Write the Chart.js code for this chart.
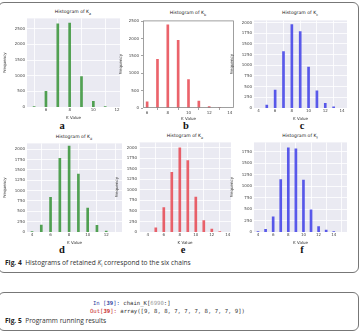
<!DOCTYPE html>
<html><head><meta charset="utf-8">
<script src="https://cdn.jsdelivr.net/npm/chart.js@4"></script>
<style>
body{margin:0;width:362px;height:333px;background:#fff;position:relative;overflow:hidden;font-family:"Open Sans",sans-serif;}
.box{position:absolute;border:1px solid #777;border-radius:6px;}
canvas{position:absolute;}
.ttl{position:absolute;font-family:"DejaVu Sans",sans-serif;font-size:4.6px;color:#222;text-align:center;white-space:nowrap;transform:translateX(-50%);}
.ttl sub{font-size:3.4px;}
.lab{position:absolute;font-family:"Liberation Serif",serif;font-weight:bold;font-size:10.5px;color:#111;transform:translateX(-50%);}
.cap{position:absolute;left:5px;font-size:6.6px;color:#333;white-space:nowrap;}
.cap b{font-family:"Open Sans",sans-serif;font-weight:700;color:#222;}
.code{position:absolute;font-family:"DejaVu Sans Mono",monospace;font-size:5.6px;color:#333;white-space:pre;}
</style></head><body>
<div class="box" style="left:-2px;top:2px;width:359px;height:269px;"></div>
<div class="box" style="left:-2px;top:292px;width:359px;height:37px;"></div>

<div class="ttl" style="left:73px;top:9px;">Histogram of K<sub>a</sub></div>
<div class="ttl" style="left:188px;top:10px;">Histogram of K<sub>b</sub></div>
<div class="ttl" style="left:300px;top:10px;">Histogram of K<sub>c</sub></div>
<div class="ttl" style="left:74px;top:134px;">Histogram of K<sub>d</sub></div>
<div class="ttl" style="left:185px;top:133px;">Histogram of K<sub>e</sub></div>
<div class="ttl" style="left:300px;top:133px;">Histogram of K<sub>f</sub></div>

<div class="lab" style="left:62px;top:120px;">a</div>
<div class="lab" style="left:186px;top:120px;">b</div>
<div class="lab" style="left:302px;top:120px;">c</div>
<div class="lab" style="left:62px;top:244px;">d</div>
<div class="lab" style="left:183px;top:244px;">e</div>
<div class="lab" style="left:302px;top:244px;">f</div>

<div class="cap" style="top:258px;"><b>Fig. 4</b>&nbsp; Histograms of retained <i>K</i><sub style="font-size:4.5px">i</sub> correspond to the six chains</div>
<div class="code" style="left:93px;top:300px;"><span style="color:#303f9f">In [<b>39</b>]:</span> chain_K[<span style="color:#9a9a9a">6990</span>:]</div>
<div class="code" style="left:90px;top:308px;"><span style="color:#c62828">Out[<b>39</b>]:</span> array([9, 8, 8, 7, 7, 7, 8, 7, 7, 9])</div>
<div class="cap" style="top:316px;"><b>Fig. 5</b>&nbsp; Programm running results</div>

<canvas id="ca"></canvas><canvas id="cb"></canvas><canvas id="cc"></canvas>
<canvas id="cd"></canvas><canvas id="ce"></canvas><canvas id="cf"></canvas>
<script>
// ---- data ----
const kA = [5, 6, 7, 8, 9, 10, 11];
const freqA = [10, 500, 2660, 2680, 970, 180, 15];
const kB = [6, 7, 8, 9, 10, 11, 12, 13];
const freqB = [180, 1400, 2390, 1950, 820, 200, 40, 5];
const kC = [5, 6, 7, 8, 9, 10, 11, 12, 13];
const freqC = [70, 420, 1320, 1950, 1790, 960, 400, 110, 30];
const kD = [4, 5, 6, 7, 8, 9, 10, 11, 12];
const freqD = [10, 170, 840, 1780, 2080, 1400, 580, 160, 20];
const kE = [5, 6, 7, 8, 9, 10, 11, 12, 13];
const freqE = [100, 580, 1420, 2000, 1700, 830, 270, 70, 10];
const kF = [4, 5, 6, 7, 8, 9, 10, 11, 12, 13, 14];
const freqF = [5, 60, 330, 1140, 1830, 1810, 1130, 480, 120, 40, 5];

const green = 'rgba(40,140,40,0.8)', red = 'rgba(230,60,70,0.8)', blue = 'rgba(50,50,230,0.8)';

const specs = [
  {id:'ca', k:kA, f:freqA, c:green, L:27, R:120, T:17, B:107, xmin:4.4, xmax:12.25, ymax:2830, ystep:500, sea:true},
  {id:'cb', k:kB, f:freqB, c:red,   L:143, R:234, T:19, B:108, xmin:5.6, xmax:14.4, ymax:2520, ystep:500, sea:false},
  {id:'cc', k:kC, f:freqC, c:blue,  L:254, R:347, T:19, B:108, xmin:3.47, xmax:14.6, ymax:2050, ystep:250, sea:true},
  {id:'cd', k:kD, f:freqD, c:green, L:27, R:122, T:142, B:232, xmin:3.46, xmax:13.7, ymax:2143, ystep:250, sea:true},
  {id:'ce', k:kE, f:freqE, c:red,   L:139, R:231, T:141, B:232, xmin:2.9, xmax:14.4, ymax:2130, ystep:250, sea:true},
  {id:'cf', k:kF, f:freqF, c:blue,  L:254, R:347, T:141, B:232, xmin:3.47, xmax:15.75, ymax:1950, ystep:250, sea:true}
];

const bgPlugin = {
  id:'bg',
  beforeDraw(chart, args, opts){
    const a = chart.chartArea, ctx = chart.ctx;
    ctx.save();
    if (opts.sea){ ctx.fillStyle = '#eaeaf2'; ctx.fillRect(a.left, a.top, a.right-a.left, a.bottom-a.top); }
    ctx.restore();
  },
  afterDraw(chart, args, opts){
    if (!opts.sea){
      const a = chart.chartArea, ctx = chart.ctx;
      ctx.save(); ctx.strokeStyle = '#888'; ctx.lineWidth = 0.8;
      ctx.strokeRect(a.left+0.5, a.top+0.5, a.right-a.left-1, a.bottom-a.top-1);
      ctx.restore();
    }
  }
};

const YW = 24, XH = 13, PT = 3, PR = 2;
specs.forEach(s => {
  const cv = document.getElementById(s.id);
  const left = s.L - YW, top = s.T - PT;
  const w = s.R - left + PR, h = s.B - top + XH;
  cv.width = w; cv.height = h;
  cv.style.left = left + 'px'; cv.style.top = top + 'px';
  cv.style.width = w + 'px'; cv.style.height = h + 'px';
  const tickFont = {size:4, family:'DejaVu Sans'};
  new Chart(cv, {
    type:'bar',
    data:{ datasets:[{ data: s.k.map((k,i)=>({x:k, y:s.f[i]})), backgroundColor:s.c, borderWidth:0, barThickness:2 }] },
    options:{
      responsive:false, animation:false, devicePixelRatio:1,
      layout:{padding:{left:0, right:PR, top:PT, bottom:0}},
      plugins:{legend:{display:false}, tooltip:{enabled:false}, title:{display:false}, bg:{sea:s.sea}},
      scales:{
        x:{ type:'linear', min:s.xmin, max:s.xmax, offset:false,
            afterBuildTicks(ax){ const t=[]; for(let v=Math.ceil(s.xmin/2)*2; v<=s.xmax; v+=2) t.push({value:v}); ax.ticks=t; },
            afterFit(ax){ ax.height = XH; },
            ticks:{ font:tickFont, color:'#444', padding:1, maxRotation:0, autoSkip:false, callback:v=>String(v) },
            grid:{ display:true, drawOnChartArea:s.sea, color: s.sea ? '#ffffff' : '#666', lineWidth: s.sea?0.8:0.6, drawTicks:!s.sea, tickLength:2 },
            border:{display:false},
            title:{display:true, text:'K Value', font:{size:4, family:'DejaVu Sans'}, color:'#333', padding:{top:0,bottom:0}} },
        y:{ min:0, max:s.ymax,
            afterBuildTicks(ax){ const t=[]; for(let v=0; v<=s.ymax; v+=s.ystep) t.push({value:v}); ax.ticks=t; },
            afterFit(ax){ ax.width = YW; },
            ticks:{ font:tickFont, color:'#444', padding:2, callback:v=>String(v) },
            grid:{ display:true, drawOnChartArea:s.sea, color: s.sea ? '#ffffff' : '#666', lineWidth: s.sea?0.8:0.6, drawTicks:!s.sea, tickLength:2 },
            border:{display:false},
            title:{display:true, text:'Frequency', font:{size:4, family:'DejaVu Sans'}, color:'#333', padding:{top:0,bottom:1}} }
      }
    },
    plugins:[bgPlugin]
  });
});
</script>
</body></html>
